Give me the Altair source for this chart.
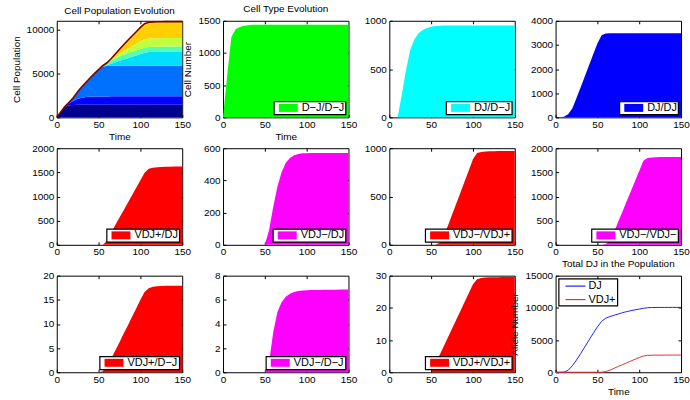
import altair as alt
import pandas as pd

# Simulation time points
TIME = [0, 5, 10, 15, 20, 25, 30, 35, 40, 45, 50, 55, 60, 65, 70, 75, 80, 85, 90, 95,
        100, 105, 110, 115, 120, 125, 130, 135, 140, 145, 150]

# Cell counts per genotype
d_j_d_j = [0, 650, 1250, 1370, 1405, 1422, 1432, 1437, 1439, 1440, 1440, 1440, 1440, 1440, 1440, 1440,
           1440, 1440, 1440, 1440, 1440, 1440, 1440, 1440, 1440, 1440, 1440, 1440, 1440, 1440, 1440]
dj_d_j = [0, 0, 0, 240, 490, 700, 810, 870, 905, 925, 938, 945, 948, 950, 950, 950,
          950, 950, 950, 950, 950, 950, 950, 950, 950, 950, 950, 950, 950, 950, 950]
dj_dj = [0, 0, 20, 130, 370, 800, 1250, 1700, 2160, 2610, 3060, 3400, 3470, 3480, 3480, 3480,
         3480, 3480, 3480, 3480, 3480, 3480, 3480, 3480, 3480, 3480, 3480, 3480, 3480, 3480, 3480]
vdjp_dj = [0, 0, 0, 0, 0, 0, 0, 0, 0, 0, 0, 0, 80, 240, 408, 563,
           718, 873, 1028, 1183, 1338, 1493, 1575, 1598, 1608, 1613, 1616, 1618, 1619, 1620, 1620]
vdjm_dj = [0, 0, 0, 0, 0, 0, 0, 0, 0, 0, 0, 90, 235, 360, 450, 510,
           540, 556, 564, 568, 569, 570, 570, 570, 570, 570, 570, 570, 570, 570, 570]
vdjm_vdjp = [0, 0, 0, 0, 0, 0, 0, 0, 0, 0, 0, 0, 20, 100, 195, 310,
             425, 540, 655, 770, 885, 950, 962, 966, 968, 969, 970, 970, 970, 970, 970]
vdjm_vdjm = [0, 0, 0, 0, 0, 0, 0, 0, 0, 0, 0, 0, 15, 90, 270, 480,
             690, 900, 1110, 1320, 1530, 1740, 1800, 1810, 1814, 1816, 1818, 1819, 1820, 1820, 1820]
vdjp_d_j = [0, 0, 0, 0, 0, 0, 0, 0, 0, 0, 0, 0.2, 1.3, 2.8, 4.5, 6.2,
            8.0, 9.7, 11.5, 13.2, 15.0, 16.6, 17.4, 17.7, 17.8, 17.85, 17.9, 17.9, 17.9, 17.9, 17.9]
vdjm_d_j = [0, 0, 0, 0, 0, 0, 0, 0, 0, 0, 0, 0.8, 3.3, 5.0, 5.8, 6.25,
            6.5, 6.65, 6.73, 6.77, 6.8, 6.81, 6.82, 6.82, 6.83, 6.83, 6.84, 6.84, 6.85, 6.85, 6.85]
vdjp_vdjp = [0, 0, 0, 0, 0, 0, 0, 0, 0, 0, 0, 2.5, 5.3, 8.0, 10.8, 13.5,
             16.3, 19.0, 21.8, 24.5, 27.3, 28.9, 29.3, 29.4, 29.5, 29.5, 29.5, 29.6, 29.6, 29.6, 29.6]

# Allele totals
dj_alleles = [0, 0, 20, 300, 1000, 1900, 2900, 3950, 5000, 6050, 7050, 7900, 8400, 8650, 8850, 9050,
              9250, 9420, 9560, 9690, 9810, 9930, 10020, 10050, 10060, 10070, 10070, 10070, 10070, 10070, 10070]
vdjp_alleles = [0, 0, 0, 0, 0, 0, 0, 0, 0, 0, 0, 0, 100, 330, 620, 900,
                1180, 1460, 1740, 2010, 2290, 2520, 2620, 2645, 2655, 2660, 2665, 2668, 2670, 2670, 2670]

NAMES = ["D−J/D−J", "DJ/D−J", "DJ/DJ", "VDJ+/DJ", "VDJ−/DJ", "VDJ−/VDJ+", "VDJ−/VDJ−",
         "VDJ+/D−J", "VDJ−/D−J", "VDJ+/VDJ+"]
SERIES = [d_j_d_j, dj_d_j, dj_dj, vdjp_dj, vdjm_dj, vdjm_vdjp, vdjm_vdjm, vdjp_d_j, vdjm_d_j, vdjp_vdjp]
JET = ["#00008f", "#0000ff", "#0070ff", "#00dfff", "#50ffaf", "#bfff40", "#ffcf00", "#ff6000",
       "#ef0000", "#800000"]
PANEL_COLORS = ["#00ff00", "#00ffff", "#0000ff", "#ff0000", "#ff00ff", "#ff0000", "#ff00ff",
                "#ff0000", "#ff00ff", "#ff0000"]
Y_MAX = [1500, 1000, 4000, 2000, 600, 1000, 2000, 20, 8, 30]
Y_TICKS = [
    [0, 500, 1000, 1500],
    [0, 500, 1000],
    [0, 1000, 2000, 3000, 4000],
    [0, 500, 1000, 1500, 2000],
    [0, 200, 400, 600],
    [0, 500, 1000],
    [0, 500, 1000, 1500, 2000],
    [0, 5, 10, 15, 20],
    [0, 2, 4, 6, 8],
    [0, 10, 20, 30],
]
POP_TICKS = [0, 5000, 10000]
POP_MAX = 11000
ALLELE_TICKS = [0, 5000, 10000, 15000]
ALLELE_MAX = 15000
X_TICKS = [0, 50, 100, 150]
INNER_X_TICKS = [50, 100]

W, H = 126, 97
# legend swatches: a flat rectangle and a short line, drawn right of the symbol slot's centre
SWATCH = "M-0.273,-0.727H3.18V0.727H-0.273Z"
LINE_KEY = "M-0.09,0H3.55"


def xs():
    return alt.Scale(domain=[0, 150], nice=False, zero=False)


def ys(top):
    return alt.Scale(domain=[0, top], nice=False)


def bottom_axis(title=None):
    return alt.Axis(values=X_TICKS, tickSize=3, offset=-3, domain=False, labelPadding=2,
                    labelFlush=False, labelOverlap=False, format="d", title=title, titlePadding=2)


def left_axis(ticks, title=None):
    return alt.Axis(values=ticks, tickSize=3, offset=-3, domain=False, labelPadding=3,
                    labelOverlap=False, format="d", title=title, titlePadding=5)


def inner_ticks(df, yfield, top, ticks):
    # tick marks along the top and right edges, pointing inward
    return alt.Chart(df).mark_point(opacity=0, size=0).encode(
        x=alt.X("t:Q", scale=xs(),
                axis=alt.Axis(orient="top", values=INNER_X_TICKS, labels=False, title=None,
                              domain=False, tickSize=3, offset=-3)),
        y=alt.Y(f"{yfield}:Q", scale=ys(top),
                axis=alt.Axis(orient="right", values=ticks[1:-1], labels=False, title=None,
                              domain=False, tickSize=3, offset=-3)),
    )


def type_panel(i, title=None, ytitle=None, xtitle=None):
    df = pd.DataFrame({"t": TIME, "v": SERIES[i], "s": NAMES[i]})
    area = alt.Chart(df).mark_area(opacity=1, interpolate="linear").encode(
        x=alt.X("t:Q", scale=xs(), axis=bottom_axis(xtitle)),
        y=alt.Y("v:Q", scale=ys(Y_MAX[i]), stack=None, axis=left_axis(Y_TICKS[i], ytitle)),
        color=alt.Color("s:N", scale=alt.Scale(domain=[NAMES[i]], range=[PANEL_COLORS[i]]),
                        legend=alt.Legend(orient="bottom-right", title=None, symbolType=SWATCH,
                                          symbolSize=121, symbolStrokeWidth=0, labelOffset=16,
                                          offset=3, padding=1)),
    )
    layer = alt.layer(area, inner_ticks(df, "v", Y_MAX[i], Y_TICKS[i])).resolve_axis(
        x="independent", y="independent")
    props = dict(width=W, height=H)
    if title:
        props["title"] = title
    return layer.properties(**props)


def population_panel():
    rows = []
    for k, (name, vals) in enumerate(zip(NAMES, SERIES)):
        for t, v in zip(TIME, vals):
            rows.append({"t": t, "v": v, "s": name, "k": k})
    df = pd.DataFrame(rows)
    totals = df.groupby("t", as_index=False)["v"].sum().rename(columns={"v": "total"})
    stack = alt.Chart(df).mark_area(opacity=1, interpolate="linear").encode(
        x=alt.X("t:Q", scale=xs(), axis=bottom_axis("Time")),
        y=alt.Y("v:Q", scale=ys(POP_MAX), stack="zero", axis=left_axis(POP_TICKS, "Cell Population")),
        color=alt.Color("s:N", scale=alt.Scale(domain=NAMES, range=JET), legend=None),
        order=alt.Order("k:Q", sort="ascending"),
    )
    outline = alt.Chart(totals).mark_line(color="#800000", strokeWidth=1.6).encode(
        x=alt.X("t:Q", scale=xs(), axis=None),
        y=alt.Y("total:Q", scale=ys(POP_MAX), axis=None),
    )
    layer = alt.layer(stack, outline, inner_ticks(totals, "total", POP_MAX, POP_TICKS)).resolve_axis(
        x="independent", y="independent")
    return layer.properties(width=W, height=H, title="Cell Population Evolution")


def allele_panel():
    df = pd.concat([
        pd.DataFrame({"t": TIME, "v": dj_alleles, "s": "DJ"}),
        pd.DataFrame({"t": TIME, "v": vdjp_alleles, "s": "VDJ+"}),
    ])
    lines = alt.Chart(df).mark_line(strokeWidth=1).encode(
        x=alt.X("t:Q", scale=xs(), axis=bottom_axis("Time")),
        y=alt.Y("v:Q", scale=ys(ALLELE_MAX), axis=left_axis(ALLELE_TICKS, "Allele Number")),
        color=alt.Color("s:N", scale=alt.Scale(domain=["DJ", "VDJ+"], range=["#2222ee", "#dd3333"]),
                        legend=alt.Legend(orient="top-left", title=None, symbolType=LINE_KEY,
                                          symbolSize=121, symbolStrokeWidth=1.2, labelOffset=16,
                                          offset=3, padding=1, rowPadding=1.5)),
    )
    layer = alt.layer(lines, inner_ticks(df, "v", ALLELE_MAX, ALLELE_TICKS)).resolve_axis(
        x="independent", y="independent")
    return layer.properties(width=W, height=H, title="Total DJ in the Population")


panels = [
    population_panel(),
    type_panel(0, title="Cell Type Evolution", ytitle="Cell Number", xtitle="Time"),
    type_panel(1),
    type_panel(2),
    type_panel(3),
    type_panel(4),
    type_panel(5),
    type_panel(6),
    type_panel(7),
    type_panel(8),
    type_panel(9),
    allele_panel(),
]

chart = alt.concat(
    *panels, columns=4, spacing={"row": 31, "column": 41}, bounds="flush"
).resolve_scale(color="independent").properties(
    padding={"left": 10, "top": 2, "right": 0, "bottom": 0}
).configure(
    font="Liberation Sans"
).configure_view(
    stroke="black", strokeWidth=1
).configure_axis(
    labelFontSize=10, titleFontSize=10, titleFontWeight="normal", labelColor="black",
    titleColor="black", tickColor="black", grid=False
).configure_title(
    fontSize=10, fontWeight="normal", color="black", offset=2
).configure_legend(
    strokeColor="black", fillColor="white", strokeWidth=1.2, cornerRadius=0,
    labelFontSize=11, labelColor="black", labelLimit=200
)

chart.save("out.html", embed_options={"renderer": "svg", "actions": False})
